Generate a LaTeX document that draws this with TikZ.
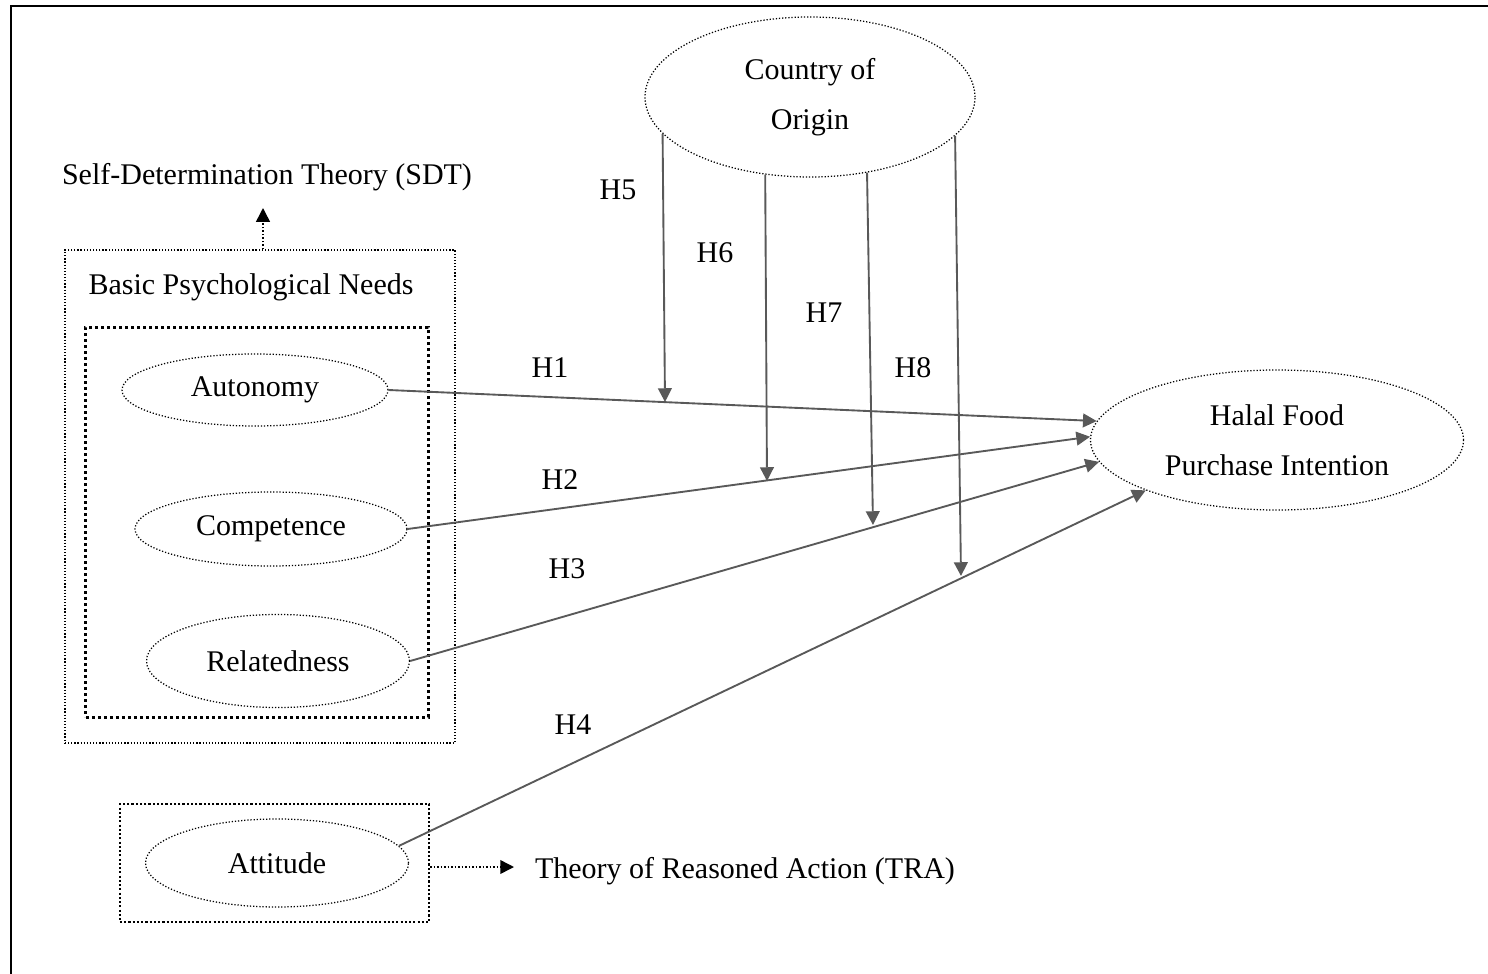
\documentclass[tikz,border=0pt]{standalone}
\usepackage{fontspec}
\setmainfont{Liberation Serif}
\usetikzlibrary{arrows.meta,shapes.geometric}
\definecolor{linegray}{HTML}{595959}
\tikzset{
  framestyle/.style={line width=0.8pt, black},
  finedot/.style={line width=0.5pt, dash pattern=on 0.5pt off 0.75pt},
  heavydot/.style={line width=1.2pt, dash pattern=on 1.2pt off 1.2pt},
  meddot/.style={line width=0.85pt, dash pattern=on 0.85pt off 0.85pt},
  oval/.style={ellipse, draw, finedot, inner sep=0pt, align=center},
  boxnode/.style={rectangle, draw, inner sep=0pt},
  lbl/.style={inner sep=1pt},
  mainarrow/.style={draw=linegray, line width=0.75pt, -{Triangle[length=5.5pt,width=5.5pt]}, fill=none},
  tiparrow/.style={line width=0.6pt, dash pattern=on 0.6pt off 0.8pt, -{Triangle[length=5.5pt,width=5.5pt,sep=0pt]}},
  every node/.style={font=\fontsize{12}{20}\selectfont}
}
\begin{document}
\begin{tikzpicture}[x=0.4pt,y=-0.4pt]
\useasboundingbox (0,0) rectangle (1488,974);
% frame
\coordinate (ftl) at (11,6);
\coordinate (ftr) at (1488,6);
\coordinate (fbl) at (11,974);
\draw[framestyle] (ftr) -- (ftl) -- (fbl);

% boxes
\node[boxnode, finedot, minimum width=156pt, minimum height=197.2pt] (obox) at (260,496.5) {};
\node[boxnode, heavydot, minimum width=136.8pt, minimum height=156pt] (ibox) at (257,522) {};
\node[boxnode, meddot, minimum width=123.6pt, minimum height=47.2pt] (abox) at (274.5,863) {};

% texts
\node[lbl] (sdt) at (267,177) {Self-Determination Theory (SDT)};
\node[lbl] (bpn) at (251,287) {Basic Psychological Needs};
\node[lbl, anchor=west] (tra) at (532,871) {Theory of Reasoned Action (TRA)};

% ellipses
\node[oval, minimum width=106.4pt, minimum height=28.8pt] (aut) at (255,390) {Autonomy};
\node[oval, minimum width=108.8pt, minimum height=29.6pt] (comp) at (271,529) {Competence};
\node[oval, minimum width=105.2pt, minimum height=37.2pt] (rel) at (278,661) {Relatedness};
\node[oval, minimum width=105.2pt, minimum height=35.2pt] (att) at (277,863) {Attitude};
\node[oval, minimum width=132pt, minimum height=64pt] (coo) at (810,97) {Country of\\Origin};
\node[oval, minimum width=149.2pt, minimum height=56pt] (hfpi) at (1277,440) {Halal Food\\Purchase Intention};

% dotted arrows
\coordinate (sdttip) at (263,208);
\coordinate (tratip) at (514,867);
\draw[tiparrow] (obox.north -| sdttip) -- (sdttip);
\draw[tiparrow] (abox.east |- tratip) -- (tratip);

% main arrows
\draw[mainarrow] (aut.east) -- (hfpi.174.2);
\draw[mainarrow] (comp.east) -- (hfpi.179);
\draw[mainarrow] (rel.east) -- (hfpi.187.4);
\draw[mainarrow] (att.8) -- (hfpi.201.6);

% moderation arrows
\coordinate (h5tip) at (665,402);
\coordinate (h6tip) at (767,481);
\coordinate (h7tip) at (873,525);
\coordinate (h8tip) at (961,576);
\draw[mainarrow] (coo.194.7) -- (h5tip);
\draw[mainarrow] (coo.240.8) -- (h6tip);
\draw[mainarrow] (coo.307.7) -- (h7tip);
\draw[mainarrow] (coo.345.3) -- (h8tip);

% labels
\node[lbl] (lh1) at (550,368) {H1};
\node[lbl] (lh2) at (560,480) {H2};
\node[lbl] (lh3) at (567,569) {H3};
\node[lbl] (lh4) at (573,725) {H4};
\node[lbl] (lh5) at (618,190) {H5};
\node[lbl] (lh6) at (715,253) {H6};
\node[lbl] (lh7) at (824,313) {H7};
\node[lbl] (lh8) at (913,368) {H8};
\end{tikzpicture}
\end{document}
